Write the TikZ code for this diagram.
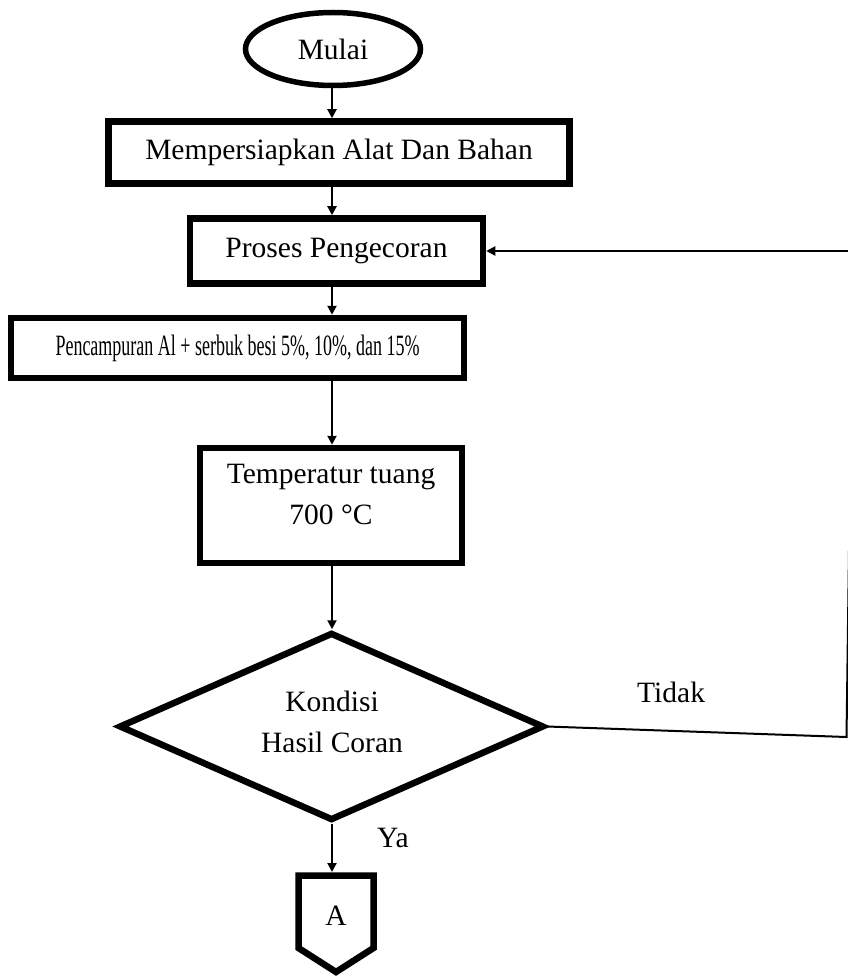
\documentclass[tikz,border=0pt]{standalone}
\usepackage{fontspec}
\usepackage{graphicx}
\setmainfont{Liberation Serif}
\usetikzlibrary{shapes.geometric,arrows.meta}
\begin{document}
\begin{tikzpicture}[x=1pt,y=-1pt,
  every node/.style={font=\fontsize{29.5}{41}\selectfont},
  box/.style={draw,line width=6.5pt,inner sep=0pt,align=center},
  conn/.style={line width=2pt,-{Triangle[length=9pt,width=9pt]}},
  fline/.style={line width=2pt},
  lbl/.style={anchor=base west,inner sep=0pt}
]
\useasboundingbox (0,0) rectangle (847,976);
\coordinate (cx) at (332,0);
% nodes
\node[box,ellipse,line width=5.5pt,minimum width=175,minimum height=73] (start) at (333,49) {Mulai};
\node[box,minimum width=461,minimum height=62] (b1) at (339,152.5) {Mempersiapkan Alat Dan Bahan};
\node[box,minimum width=293,minimum height=65] (b2) at (336.5,251) {Proses Pengecoran};
\node[box,minimum width=453,minimum height=60] (b3) at (237.5,348) {\scalebox{0.61}[1]{Pencampuran Al + serbuk besi 5\%, 10\%, dan 15\%}};
\node[box,minimum width=262,minimum height=115] (b4) at (331,505.5) {};
\node[align=center,inner sep=0pt] (t4) at (331,494) {Temperatur tuang\\700 °C};
\node[box,diamond,minimum width=425,minimum height=188] (dia) at (331.5,726.5) {};
\node[align=center,inner sep=0pt] (tdia) at (332,722) {Kondisi\\Hasil Coran};
\node[inner sep=0pt] (A) at (336,916) {A};
\draw[line width=6.5pt,line join=miter] (298.5,875.5) -- (373.5,875.5) -- (373.5,948) -- (336,972) -- (298.5,948) -- cycle;
\coordinate (atop) at (332,872);
% connectors
\draw[conn] (start.south -| cx) -- (b1.north -| cx);
\draw[conn] (b1.south -| cx) -- (b2.north -| cx);
\draw[conn] (b2.south -| cx) -- (b3.north -| cx);
\draw[conn] (b3.south -| cx) -- (b4.north -| cx);
\draw[conn] (b4.south -| cx) -- (dia.north -| cx);
\draw[conn] (dia.south -| cx) -- (atop);
\coordinate (fb1) at (846.5,737);
\coordinate (fb2) at (853,251);
\draw[fline] (dia.east) -- (fb1) -- (fb2);
\draw[conn] (fb2) -- (b2.east);
% labels
\node[lbl] (tidak) at (637,702) {Tidak};
\node[lbl] (ya) at (377,847) {Ya};
\end{tikzpicture}
\end{document}
